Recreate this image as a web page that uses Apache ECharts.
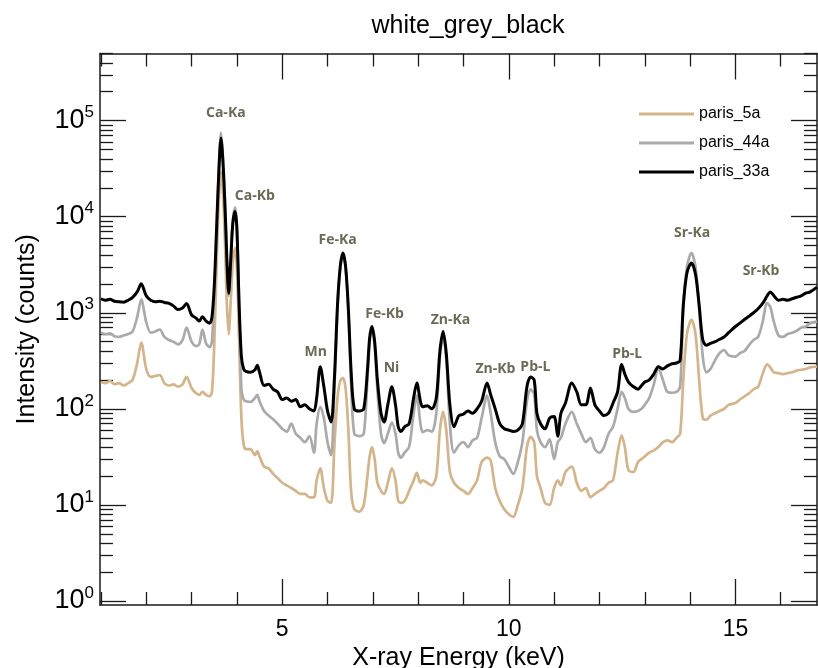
<!DOCTYPE html>
<html>
<head>
<meta charset="utf-8">
<script src="https://cdn.jsdelivr.net/npm/echarts@6/dist/echarts.min.js"></script>
<style>html,body{margin:0;padding:0;background:#fff;}#c{width:818px;height:668px;}</style>
</head>
<body>
<div id="c"></div>
<script>
// X-ray energy (keV)
const energy = [
1.00,1.10,1.20,1.30,1.40,1.50,1.60,1.70,1.80,1.89,
2.00,2.10,2.20,2.30,2.40,2.50,2.60,2.70,2.80,2.89,
3.00,3.10,3.17,3.24,3.32,3.40,3.45,3.50,3.55,3.60,
3.65,3.70,3.75,3.78,3.82,3.86,3.91,3.96,4.00,4.05,
4.10,4.15,4.20,4.30,4.40,4.45,4.50,4.60,4.70,4.80,
4.90,5.00,5.10,5.20,5.30,5.40,5.50,5.60,5.70,5.76,
5.84,5.92,6.00,6.08,6.15,6.22,6.28,6.34,6.40,6.46,
6.52,6.59,6.70,6.80,6.88,6.93,6.98,7.04,7.10,7.18,
7.25,7.33,7.42,7.50,7.56,7.62,7.70,7.80,7.90,7.97,
8.05,8.10,8.20,8.30,8.40,8.48,8.55,8.62,8.70,8.79,
8.90,9.00,9.10,9.20,9.30,9.40,9.52,9.60,9.70,9.80,
9.90,10.00,10.10,10.20,10.30,10.40,10.48,10.56,10.62,10.70,
10.80,10.90,11.00,11.08,11.15,11.25,11.39,11.50,11.60,11.70,
11.80,11.90,12.00,12.10,12.20,12.30,12.40,12.49,12.56,12.64,
12.75,12.85,12.93,13.00,13.10,13.20,13.30,13.40,13.50,13.60,
13.70,13.78,13.85,13.93,14.03,14.12,14.20,14.28,14.36,14.45,
14.55,14.65,14.75,14.85,15.00,15.10,15.20,15.30,15.40,15.50,
15.60,15.70,15.77,15.85,15.95,16.05,16.15,16.25,16.35,16.45,
16.55,16.65,16.80
];
// counts, paris_33a (black)
const paris33a = [
1400,1350,1380,1320,1300,1290,1350,1450,1650,2000,
1500,1350,1300,1320,1280,1250,1180,1080,1120,1250,
950,880,820,910,820,780,900,1850,7000,28000,
66000,32000,9000,3500,1600,3200,8500,11300,7500,1200,
350,260,245,240,255,285,240,175,180,160,
150,125,130,120,125,105,110,100,95,130,
275,170,95,73,200,1200,3000,4200,3000,1100,
250,100,95,100,250,550,720,500,200,90,
73,110,170,110,65,58,65,70,130,186,
120,105,108,100,130,400,640,380,110,65,
85,88,95,90,100,120,186,140,100,70,
62,60,58,60,70,170,215,200,90,70,
62,80,83,52,90,115,186,150,110,110,
165,110,95,85,90,115,150,290,230,190,
170,160,175,190,200,230,275,260,280,295,
300,320,1200,2600,3300,2500,1200,520,460,480,
500,530,560,620,720,780,850,920,1000,1100,
1250,1500,1650,1500,1350,1380,1350,1400,1450,1500,
1600,1650,1850
];
// counts, paris_44a (grey)
const paris44a = [
620,600,610,570,560,580,600,640,900,1370,
800,620,640,670,560,520,500,470,520,700,
500,450,470,670,480,440,500,1500,6500,30000,
75000,36000,9500,3500,1500,3300,9000,12500,8000,1200,
160,125,120,118,130,140,120,95,85,78,
70,62,58,70,55,50,45,52,35,70,
105,80,45,33,150,1100,2900,4000,2900,1000,
180,55,52,55,200,500,680,460,160,55,
44,55,72,55,35,31,35,40,90,137,
70,57,60,58,90,350,560,330,70,35,
42,45,40,47,50,80,137,90,45,32,
30,25,21,28,45,120,160,140,60,45,
40,48,30,45,50,70,93,70,55,45,
50,38,35,40,55,65,100,150,130,100,
93,95,100,110,130,180,265,200,150,147,
150,170,1100,3000,4200,3000,1100,350,240,260,
320,380,410,360,350,380,400,460,520,560,
800,1260,1150,800,580,560,600,620,650,700,
720,780,810
];
// counts, paris_5a (tan)
const paris5a = [
190,185,195,180,185,175,185,200,300,490,
260,215,220,225,185,175,180,170,180,215,
165,145,140,150,140,135,150,450,2800,14000,
29500,15000,3500,1200,600,1200,3300,4700,3000,500,
80,42,38,38,33,36,32,25,24,21,
19,17,16,15,14,13,13,12,12,18,
24,15,11,10.5,40,130,195,210,160,60,
14,9,8.5,10,20,32,40,30,17,14,
13,17,24,18,11,10.5,11,14,18,21.5,
17,18,17,16,20,60,93,60,22,17,
15,14,13,15,18,28,31,29,15,11,
9,8,7.5,10,15,40,51,45,20,15,
10.5,10,15,18,16,22,25,17,14,15,
12,13,14,15,17,18,35,53,40,23,
22,28,30,32,35,37,40,45,47,45,
50,55,200,600,850,600,200,80,77,85,
90,95,100,110,115,125,135,145,160,170,
230,290,270,240,235,230,235,240,250,255,
260,270,275
];
const seriesNames = ['paris_5a','paris_44a','paris_33a'];
// peak annotations: name, energy, counts (label anchor)
const peakNames = ['Ca-Ka','Ca-Kb','Fe-Ka','Mn','Fe-Kb','Ni','Zn-Ka','Zn-Kb','Pb-L','Pb-L','Sr-Ka','Sr-Kb'];
const peakEnergy = [3.756,4.395,6.223,5.739,7.259,7.413,8.713,9.704,10.586,12.612,14.044,15.565];
const peakCounts = [123000,16900,5870,400,996,273,862,267,279,382,6940,2790];
// ticks
const xMajorTicks = [5,10,15];
const xMinorTicks = [1,2,3,4,6,7,8,9,11,12,13,14,16];
const yMajorTicks = [1,10,100,1000,10000,100000];
const yMinorTicks = [2,3,4,5,6,7,8,9,20,30,40,50,60,70,80,90,200,300,400,500,600,700,800,900,
  2000,3000,4000,5000,6000,7000,8000,9000,20000,30000,40000,50000,60000,70000,80000,90000,200000,300000,400000,500000];

const FONT = 'Liberation Sans, Arial, Helvetica, sans-serif';
const XMIN = 0.98, XMAX = 16.8, YMIN = 0.908, YMAX = 500000;
const lineCol = '#1a1a1a';

function mkX(pos, ticks, len, showLine, showLabel, extra) {
  return Object.assign({
    type: 'value', position: pos, min: XMIN, max: XMAX, gridIndex: 0,
    axisLine: {show: showLine, onZero: false, lineStyle: {color: lineCol, width: 1.5}},
    axisTick: {show: true, inside: true, length: len, customValues: ticks, lineStyle: {color: lineCol, width: 1.3}},
    axisLabel: {show: showLabel, customValues: ticks, fontSize: 23, color: '#000', fontFamily: FONT, margin: 13},
    splitLine: {show: false}
  }, extra || {});
}
function mkY(pos, ticks, len, showLine, showLabel, extra) {
  return Object.assign({
    type: 'log', logBase: 10, position: pos, min: YMIN, max: YMAX, gridIndex: 0,
    axisLine: {show: showLine, onZero: false, lineStyle: {color: lineCol, width: 1.5}},
    axisTick: {show: true, inside: true, length: len, customValues: ticks, lineStyle: {color: lineCol, width: 1.3}},
    axisLabel: {show: showLabel, customValues: ticks, margin: 6,
      formatter: v => '{b|10}{s|' + Math.round(Math.log10(v)) + '}',
      rich: {b: {fontSize: 27, fontFamily: FONT, color: '#000'}, s: {fontSize: 17, fontFamily: FONT, color: '#000', padding: [0,0,16,0]}}},
    splitLine: {show: false}
  }, extra || {});
}

const colors = ['#d4b48a', '#aaaaaa', '#000000'];
const vals = [paris5a, paris44a, paris33a];

const series = seriesNames.map((n, i) => ({
  name: n, type: 'line', xAxisIndex: 0, yAxisIndex: 0,
  data: energy.map((e, k) => [e, vals[i][k]]),
  showSymbol: false, symbol: 'none', smooth: 0.3,
  lineStyle: {color: colors[i], width: i === 2 ? 3 : 2.7, join: 'round'},
  itemStyle: {color: colors[i]},
  z: 2 + i, animation: false
}));
series.push({
  name: 'peaks', type: 'scatter', xAxisIndex: 0, yAxisIndex: 0, silent: true,
  symbolSize: 1, itemStyle: {color: 'rgba(0,0,0,0)'}, z: 10,
  data: peakNames.map((n, i) => [peakEnergy[i], peakCounts[i], n]),
  label: {show: true, position: 'inside', offset: [0, 1], formatter: p => p.data[2],
    fontFamily: 'Open Sans, Noto Sans, sans-serif', fontWeight: 'bold', fontSize: 14, color: '#47432b'},
  animation: false
});

const chart = echarts.init(document.getElementById('c'), null, {renderer: 'canvas'});
chart.setOption({
  animation: false,
  backgroundColor: '#fff',
  title: {text: 'white_grey_black', left: 463, top: 9, textAlign: 'center',
    textStyle: {fontFamily: FONT, fontWeight: 'normal', fontSize: 25, color: '#000'}},
  legend: {data: seriesNames, orient: 'vertical', left: 634, top: 101, itemWidth: 55, itemHeight: 3,
    itemGap: 13, icon: 'rect', textStyle: {fontFamily: FONT, fontSize: 16, color: '#000', lineHeight: 16}},
  grid: {left: 100, right: 1, top: 53.5, bottom: 63, containLabel: false, outerBoundsMode: 'none'},
  xAxis: [
    mkX('bottom', xMajorTicks, 26, true, true, {name: 'X-ray Energy (keV)', nameLocation: 'middle', nameGap: 34,
      nameTextStyle: {fontFamily: FONT, fontSize: 25, color: '#000'}}),
    mkX('bottom', xMinorTicks, 13, false, false),
    mkX('top', xMajorTicks, 26, true, false),
    mkX('top', xMinorTicks, 13, false, false)
  ],
  yAxis: [
    mkY('left', yMajorTicks, 26, true, true, {name: 'Intensity (counts)', nameLocation: 'middle', nameGap: 60,
      nameTextStyle: {fontFamily: FONT, fontSize: 25, color: '#000'}}),
    mkY('left', yMinorTicks, 13, false, false),
    mkY('right', yMajorTicks, 26, true, false),
    mkY('right', yMinorTicks, 13, false, false)
  ],
  series: series
});
</script>
</body>
</html>
